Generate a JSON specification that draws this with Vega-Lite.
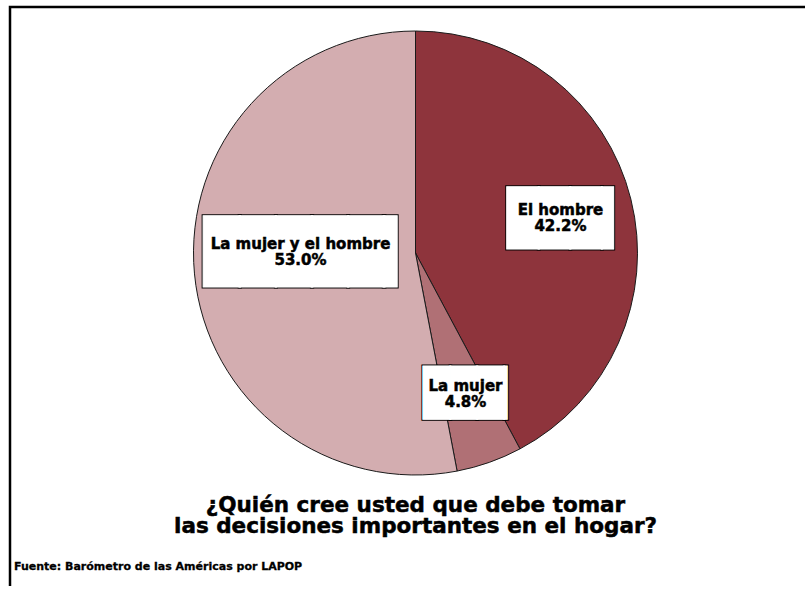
{
  "$schema": "https://vega.github.io/schema/vega-lite/v6.json",
  "width": 850,
  "height": 593,
  "autosize": {"type": "none"},
  "padding": {"left": 10, "top": 7, "right": -55, "bottom": -14},
  "background": "white",
  "config": {"view": {"stroke": "black", "strokeWidth": 2.5}},
  "data": {"values": [
    {"respuesta": "El hombre", "porcentaje": 42.2, "orden": 1},
    {"respuesta": "La mujer", "porcentaje": 4.8, "orden": 2},
    {"respuesta": "La mujer y el hombre", "porcentaje": 53.0, "orden": 3}
  ]},
  "layer": [
    {
      "data": {"values": [{"marco": 0}]},
      "mark": {"type": "point", "opacity": 0},
      "encoding": {
        "x": {"field": "marco", "type": "quantitative", "axis": null},
        "y": {"field": "marco", "type": "quantitative", "axis": null}
      }
    },
    {
      "mark": {"type": "arc", "outerRadius": 222, "stroke": "#1a1a1a", "strokeWidth": 1, "xOffset": -19.5, "yOffset": -50.5},
      "encoding": {
        "theta": {"field": "porcentaje", "type": "quantitative", "stack": true},
        "order": {"field": "orden", "type": "quantitative"},
        "color": {"field": "respuesta", "type": "nominal", "legend": null,
          "scale": {"domain": ["El hombre", "La mujer", "La mujer y el hombre"], "range": ["#8E343C", "#B07075", "#D3ADB0"]}}
      }
    },
    {
      "mark": {"type": "text", "font": "DejaVu Sans Mono", "fontSize": 60, "align": "left", "baseline": "alphabetic", "radius": 115, "dx": -117.1, "dy": -42.5, "fill": "black", "stroke": "black", "strokeWidth": 3},
      "encoding": {
        "theta": {"field": "porcentaje", "type": "quantitative", "stack": true},
        "order": {"field": "orden", "type": "quantitative"},
        "text": {"condition": {"test": "datum.respuesta === 'La mujer y el hombre'", "value": "█████▍"}, "value": ""}
      }
    },
    {
      "mark": {"type": "text", "font": "DejaVu Sans Mono", "fontSize": 60, "align": "left", "baseline": "alphabetic", "radius": 115, "dx": -117.1, "dy": -42.5, "fill": "white", "stroke": "white", "strokeWidth": 1},
      "encoding": {
        "theta": {"field": "porcentaje", "type": "quantitative", "stack": true},
        "order": {"field": "orden", "type": "quantitative"},
        "text": {"condition": {"test": "datum.respuesta === 'La mujer y el hombre'", "value": "█████▍"}, "value": ""}
      }
    },
    {
      "mark": {"type": "text", "font": "DejaVu Sans Mono", "fontSize": 52.4, "align": "left", "baseline": "alphabetic", "radius": 149, "dx": -72.3, "dy": -31.7, "fill": "black", "stroke": "black", "strokeWidth": 3},
      "encoding": {
        "theta": {"field": "porcentaje", "type": "quantitative", "stack": true},
        "order": {"field": "orden", "type": "quantitative"},
        "text": {"condition": {"test": "datum.respuesta === 'El hombre'", "value": "███▍"}, "value": ""}
      }
    },
    {
      "mark": {"type": "text", "font": "DejaVu Sans Mono", "fontSize": 52.4, "align": "left", "baseline": "alphabetic", "radius": 149, "dx": -72.3, "dy": -31.7, "fill": "white", "stroke": "white", "strokeWidth": 1},
      "encoding": {
        "theta": {"field": "porcentaje", "type": "quantitative", "stack": true},
        "order": {"field": "orden", "type": "quantitative"},
        "text": {"condition": {"test": "datum.respuesta === 'El hombre'", "value": "███▍"}, "value": ""}
      }
    },
    {
      "mark": {"type": "text", "font": "DejaVu Sans Mono", "fontSize": 44.7, "align": "left", "baseline": "alphabetic", "radius": 148.5, "dx": -60.9, "dy": -35.1, "fill": "black", "stroke": "black", "strokeWidth": 3},
      "encoding": {
        "theta": {"field": "porcentaje", "type": "quantitative", "stack": true},
        "order": {"field": "orden", "type": "quantitative"},
        "text": {"condition": {"test": "datum.respuesta === 'La mujer'", "value": "███▏"}, "value": ""}
      }
    },
    {
      "mark": {"type": "text", "font": "DejaVu Sans Mono", "fontSize": 44.7, "align": "left", "baseline": "alphabetic", "radius": 148.5, "dx": -60.9, "dy": -35.1, "fill": "white", "stroke": "white", "strokeWidth": 1},
      "encoding": {
        "theta": {"field": "porcentaje", "type": "quantitative", "stack": true},
        "order": {"field": "orden", "type": "quantitative"},
        "text": {"condition": {"test": "datum.respuesta === 'La mujer'", "value": "███▏"}, "value": ""}
      }
    },
    {
      "transform": [{"calculate": "datum.respuesta + '\\n' + format(datum.porcentaje, '.1f') + '%'", "as": "etiqueta"}],
      "mark": {"type": "text", "font": "DejaVu Sans", "fontWeight": "bold", "fontSize": 15, "lineHeight": 16, "lineBreak": "\n", "align": "center", "baseline": "middle", "radius": 115, "dx": -20, "dy": -70.6, "fill": "black", "stroke": "black", "strokeWidth": 0.5},
      "encoding": {
        "theta": {"field": "porcentaje", "type": "quantitative", "stack": true},
        "order": {"field": "orden", "type": "quantitative"},
        "text": {"condition": {"test": "datum.respuesta === 'La mujer y el hombre'", "field": "etiqueta", "type": "nominal"}, "value": ""}
      }
    },
    {
      "transform": [{"calculate": "datum.respuesta + '\\n' + format(datum.porcentaje, '.1f') + '%'", "as": "etiqueta"}],
      "mark": {"type": "text", "font": "DejaVu Sans", "fontWeight": "bold", "fontSize": 15, "lineHeight": 16, "lineBreak": "\n", "align": "center", "baseline": "middle", "radius": 149, "dx": -19.1, "dy": -57.3, "fill": "black", "stroke": "black", "strokeWidth": 0.5},
      "encoding": {
        "theta": {"field": "porcentaje", "type": "quantitative", "stack": true},
        "order": {"field": "orden", "type": "quantitative"},
        "text": {"condition": {"test": "datum.respuesta === 'El hombre'", "field": "etiqueta", "type": "nominal"}, "value": ""}
      }
    },
    {
      "transform": [{"calculate": "datum.respuesta + '\\n' + format(datum.porcentaje, '.1f') + '%'", "as": "etiqueta"}],
      "mark": {"type": "text", "font": "DejaVu Sans", "fontWeight": "bold", "fontSize": 15, "lineHeight": 16, "lineBreak": "\n", "align": "center", "baseline": "middle", "radius": 148.5, "dx": -18.9, "dy": -57.5, "fill": "black", "stroke": "black", "strokeWidth": 0.5},
      "encoding": {
        "theta": {"field": "porcentaje", "type": "quantitative", "stack": true},
        "order": {"field": "orden", "type": "quantitative"},
        "text": {"condition": {"test": "datum.respuesta === 'La mujer'", "field": "etiqueta", "type": "nominal"}, "value": ""}
      }
    },
    {
      "data": {"values": [{"pregunta": "¿Quién cree usted que debe tomar\nlas decisiones importantes en el hogar?"}]},
      "mark": {"type": "text", "font": "DejaVu Sans", "fontWeight": "bold", "fontSize": 21.5, "lineHeight": 21, "lineBreak": "\n", "align": "center", "baseline": "middle", "dx": -19.5, "dy": 202.5, "fill": "black", "stroke": "black", "strokeWidth": 0.5},
      "encoding": {"text": {"field": "pregunta", "type": "nominal"}}
    },
    {
      "data": {"values": [{"fuente": "Fuente: Barómetro de las Américas por LAPOP"}]},
      "mark": {"type": "text", "font": "DejaVu Sans", "fontWeight": "bold", "fontSize": 11, "align": "left", "baseline": "middle", "dx": -421, "dy": 263.5, "fill": "black", "stroke": "black", "strokeWidth": 0.3},
      "encoding": {"text": {"field": "fuente", "type": "nominal"}}
    }
  ]
}
